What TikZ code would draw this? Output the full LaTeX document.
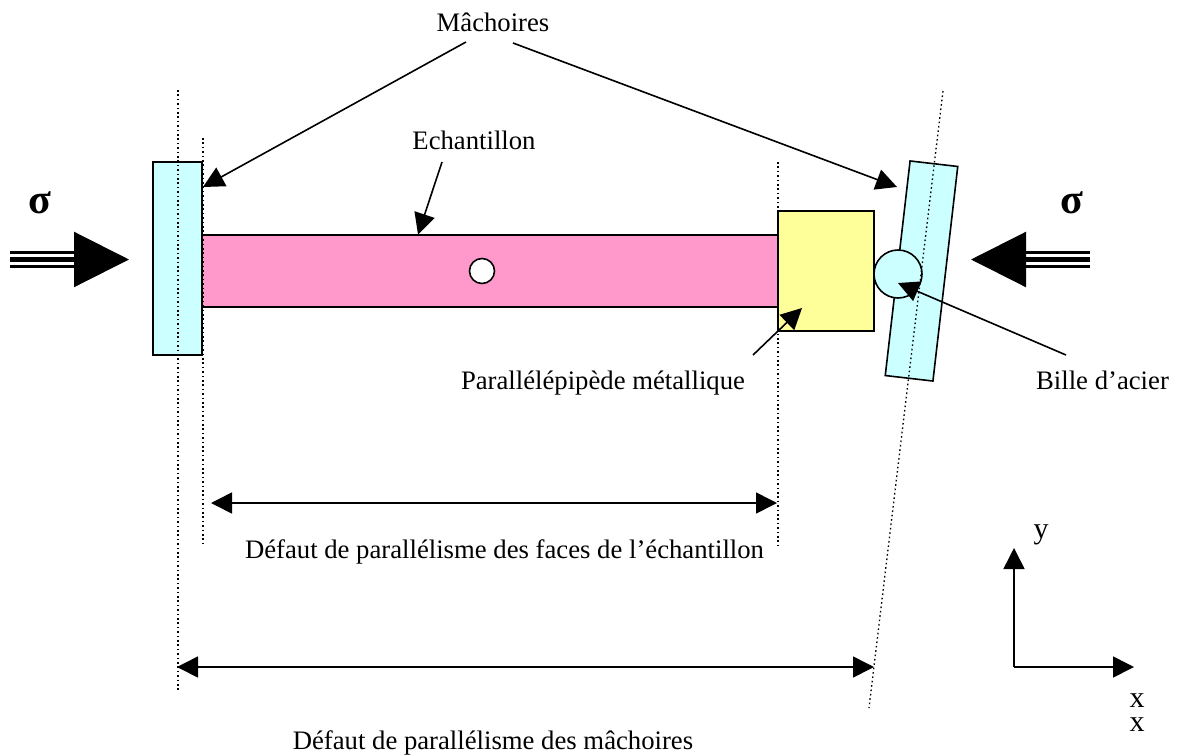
\documentclass[tikz,border=0pt]{standalone}
\usepackage{fontspec}
\setmainfont{Liberation Serif}
\usetikzlibrary{arrows.meta}
\definecolor{jawcyan}{HTML}{CCFFFF}
\definecolor{samplepink}{HTML}{FF99CC}
\definecolor{blockyellow}{HTML}{FFFF99}
\begin{document}
\begin{tikzpicture}[
    x=1pt, y=-1pt,
    part/.style={draw=black, line width=1.6pt, inner sep=0pt, outer sep=0pt},
    lbl/.style={font=\fontsize{26.7}{30}\selectfont, inner sep=0pt, anchor=base},
    axislbl/.style={lbl, font=\fontsize{30}{30}\selectfont},
    siglbl/.style={lbl, font=\fontsize{42}{44}\selectfont\bfseries},
    guide/.style={line width=1.3pt, dash pattern=on 1.6pt off 2.8pt},
    conn/.style={line width=1.6pt, -{Triangle[length=21pt,width=21pt]}},
    dim/.style={line width=1.6pt, {Triangle[length=21pt,width=21pt]}-{Triangle[length=21pt,width=21pt]}},
    load/.style={line width=2.2pt}
]
\useasboundingbox (0,0) rectangle (1180,755);
\node[part, fill=samplepink, minimum width=576pt, minimum height=72pt] (sample) at (490,271) {};
\node[part, fill=white, circle, minimum size=25pt] (hole) at (482,271) {};
\node[part, fill=jawcyan, minimum width=49pt, minimum height=193pt] (jawL) at (177.5,258.5) {};
\node[part, fill=blockyellow, minimum width=96pt, minimum height=120pt] (block) at (826,271) {};
\node[part, fill=jawcyan, minimum width=48pt, minimum height=216pt, rotate=-6.6] (jawR) at (921.5,271) {};
\node[part, fill=jawcyan, circle, minimum size=48pt] (ball) at (898,274) {};

\node[lbl] (machoires) at (493,31) {Mâchoires};
\node[lbl] (echantillon) at (474,149) {Echantillon};
\node[lbl] (para) at (603,389) {Parallélépipède métallique};
\node[lbl] (bille) at (1102.5,389) {Bille d’acier};
\node[lbl] (defautA) at (504.5,558) {Défaut de parallélisme des faces de l’échantillon};
\node[lbl] (defautB) at (493,749) {Défaut de parallélisme des mâchoires};
\node[siglbl] (sigL) at (40,213) {σ};
\node[siglbl] (sigR) at (1072,213) {σ};
\node[axislbl] (axisY) at (1041,538) {y};
\node[axislbl] (axisXa) at (1137,707) {x};
\node[axislbl] (axisXb) at (1137,731) {x};

% guide lines
\draw[guide] (178,90) -- (178,692);
\draw[guide] (203,138) -- (203,547);
\draw[guide] (778,162) -- (778,547);
\draw[guide] (943,91) -- (869,708);

% labels to parts
\coordinate (machL) at (466,42);
\coordinate (machR) at (513,43);
\coordinate (jawLtip) at (203,187);
\coordinate (jawRtip) at (897,187);
\coordinate (echStart) at (442,162);
\coordinate (echTip) at (418,234.5);
\coordinate (paraStart) at (753,355);
\coordinate (paraTip) at (802,308);
\coordinate (billeStart) at (1066,355);
\coordinate (billeTip) at (898,283);
\draw[conn] (machL) -- (jawLtip);
\draw[conn] (machR) -- (jawRtip);
\draw[conn] (echStart) -- (echTip);
\draw[conn] (paraStart) -- (paraTip);
\draw[conn] (billeStart) -- (billeTip);

% dimensions
\coordinate (dimAl) at (211,503);
\coordinate (dimAr) at (777,503);
\coordinate (dimBl) at (177,667);
\coordinate (dimBr) at (874,667);
\draw[dim] (dimAl) -- (dimAr);
\draw[dim] (dimBl) -- (dimBr);

% load arrows
\coordinate (loadLbase) at (74,259.5);
\coordinate (loadLtip) at (129,259.5);
\coordinate (loadRbase) at (1026,259.5);
\coordinate (loadRtip) at (971,259.5);
\foreach \dy/\wd in {-7/3pt,0/5.5pt,7/3pt}{
    \draw[line width=\wd] ([yshift=\dy pt]loadLbase) -- +(-64,0);
    \draw[line width=\wd] ([yshift=\dy pt]loadRbase) -- +(64,0);
}
\draw[-{Triangle[length=55pt,width=55pt]}, load] (loadLbase) -- (loadLtip);
\draw[-{Triangle[length=55pt,width=55pt]}, load] (loadRbase) -- (loadRtip);

% axes
\coordinate (origin) at (1014,667);
\coordinate (yTip) at (1014,548);
\coordinate (xTip) at (1134,667);
\draw[conn] (origin) -- (yTip);
\draw[conn] (origin) -- (xTip);
\end{tikzpicture}
\end{document}
